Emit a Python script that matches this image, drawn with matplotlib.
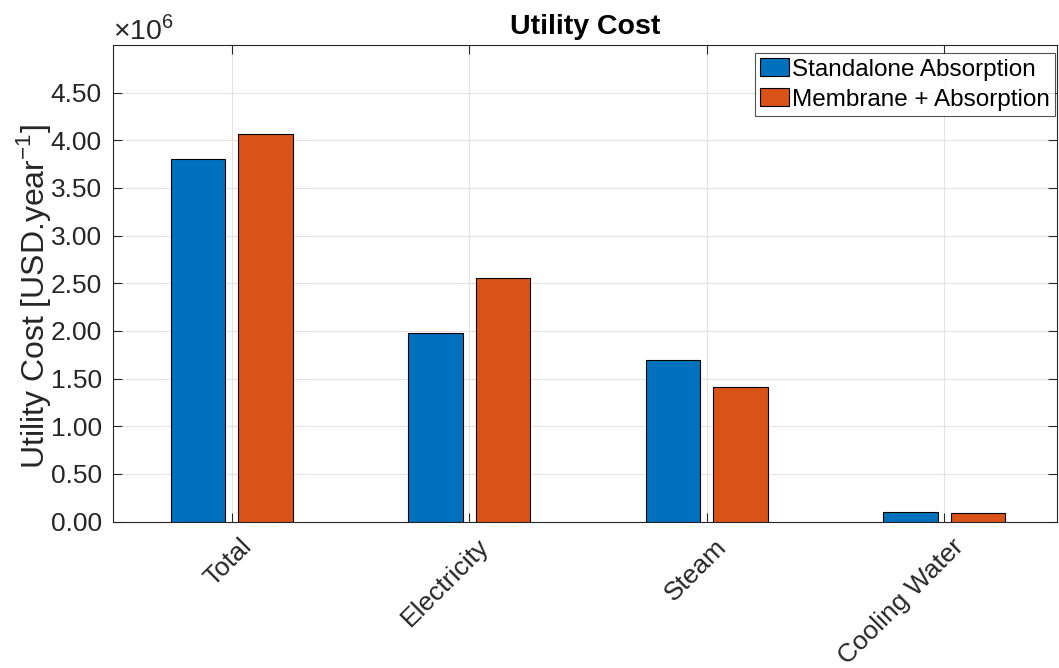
import numpy as np
import matplotlib.pyplot as plt
from matplotlib.transforms import ScaledTranslation

categories = ["Total", "Electricity", "Steam", "Cooling Water"]
standalone = [3.80e6, 1.98e6, 1.70e6, 0.105e6]
membrane = [4.07e6, 2.56e6, 1.41e6, 0.092e6]
series_names = ["Standalone Absorption", "Membrane + Absorption"]
yticks = np.arange(0, 4.51, 0.5)

plt.rcParams["font.family"] = ["Liberation Sans", "DejaVu Sans"]
plt.rcParams["mathtext.fontset"] = "custom"
plt.rcParams["mathtext.rm"] = "Liberation Sans"

fig = plt.figure(figsize=(10.59, 6.68), dpi=100)
ax = fig.add_axes([0.1067, 0.2193, 0.8913, 0.7133])

x = np.arange(1, len(categories) + 1)
w = 0.23
ax.bar(x - 0.142, standalone, w, color="#0072BD", edgecolor="black",
       linewidth=0.8, label=series_names[0], zorder=3)
ax.bar(x + 0.142, membrane, w, color="#D95319", edgecolor="black",
       linewidth=0.8, label=series_names[1], zorder=3)

ax.set_xlim(0.5, 4.474)
ax.set_ylim(0, 5.0e6)
ax.set_yticks(yticks * 1e6)
ax.set_yticklabels([f"{v:.2f}" for v in yticks], fontsize=19, color="#262626")
ax.set_xticks(x)
ax.set_xticklabels([])
# rotated category labels, anchored a little right of each tick like MATLAB
shift = ScaledTranslation(0.075, -0.13, fig.dpi_scale_trans)
for xi, name in zip(x, categories):
    ax.text(xi, 0, name, transform=ax.get_xaxis_transform() + shift,
            rotation=45, ha="right", va="top", rotation_mode="anchor",
            fontsize=19, color="#262626")

ax.tick_params(direction="in", length=6.5, top=True, right=True,
               color="#262626", width=0.8)
ax.tick_params(axis="y", pad=8)
ax.grid(True, color="#e3e3e3", linewidth=0.8, zorder=0)
ax.set_axisbelow(True)
for s in ax.spines.values():
    s.set_color("#262626")
    s.set_linewidth(0.8)

ax.set_ylabel("Utility Cost [USD.year$^{\\mathrm{-1}}$]", fontsize=23,
              color="#262626")
ax.yaxis.set_label_coords(-0.064, 0.4727)
ax.set_title("Utility Cost", fontsize=20.5, fontweight="bold", pad=8)
ax.text(0.0, 1.0, r"$\times$10$^{6}$", transform=ax.transAxes,
        fontsize=20.5, color="#262626", ha="left", va="bottom")

leg = ax.legend(loc="upper right", bbox_to_anchor=(1055 / 1059, 615 / 668),
                bbox_transform=fig.transFigure, fontsize=17.5, frameon=True,
                fancybox=False, edgecolor="#262626", borderpad=0.22,
                handlelength=1.2, handleheight=0.76, handletextpad=0.1,
                labelspacing=0.3, borderaxespad=0.0)
leg.get_frame().set_linewidth(0.8)

fig.savefig("out.png", dpi=100)
